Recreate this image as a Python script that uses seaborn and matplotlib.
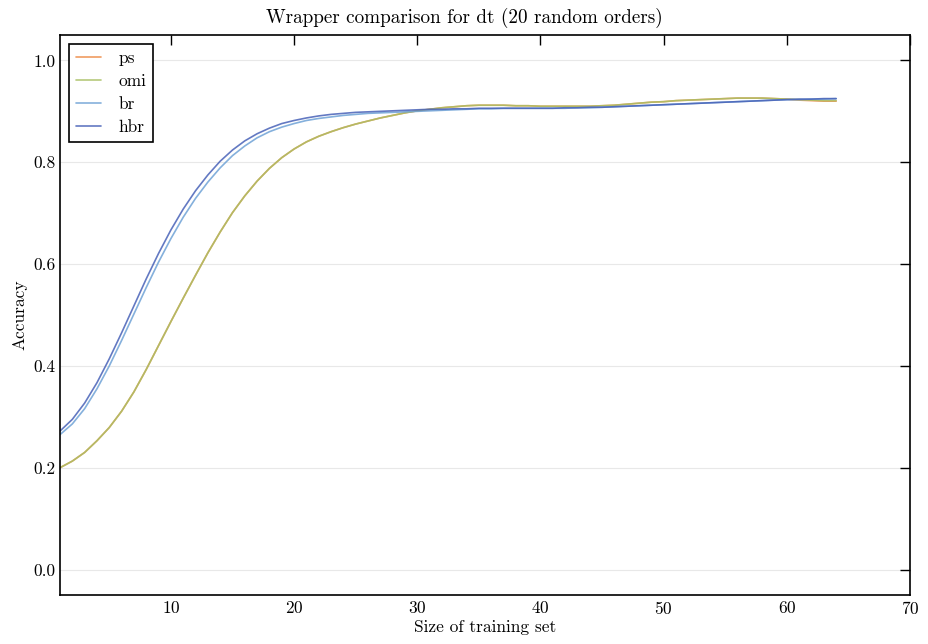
import numpy as np
import pandas as pd
import matplotlib
matplotlib.use("Agg")
import matplotlib.pyplot as plt
import seaborn as sns

# training set sizes 1..64
sizes = list(range(1, 65))

omi = [0.200, 0.213, 0.230, 0.253, 0.279, 0.311, 0.349, 0.393, 0.440, 0.487,
       0.533, 0.578, 0.622, 0.663, 0.701, 0.734, 0.763, 0.788, 0.809, 0.826,
       0.840, 0.851, 0.860, 0.868, 0.875, 0.881, 0.887, 0.892, 0.897, 0.901,
       0.904, 0.907, 0.909, 0.911, 0.912, 0.912, 0.912, 0.911, 0.911, 0.910,
       0.910, 0.910, 0.910, 0.910, 0.911, 0.912, 0.914, 0.916, 0.918, 0.919,
       0.921, 0.922, 0.923, 0.924, 0.925, 0.926, 0.926, 0.926, 0.925, 0.924,
       0.923, 0.922, 0.921, 0.921]

ps = [0.200, 0.213, 0.230, 0.253, 0.279, 0.311, 0.349, 0.393, 0.440, 0.487,
      0.533, 0.578, 0.622, 0.663, 0.701, 0.734, 0.763, 0.788, 0.809, 0.826,
      0.840, 0.851, 0.860, 0.868, 0.875, 0.881, 0.887, 0.892, 0.897, 0.901,
      0.904, 0.907, 0.909, 0.911, 0.912, 0.912, 0.912, 0.911, 0.911, 0.910,
      0.910, 0.910, 0.910, 0.910, 0.911, 0.912, 0.914, 0.916, 0.918, 0.919,
      0.921, 0.922, 0.923, 0.924, 0.925, 0.926, 0.926, 0.926, 0.925, 0.924,
      0.922, 0.921, 0.920, 0.920]

br = [0.265, 0.286, 0.316, 0.355, 0.400, 0.450, 0.502, 0.554, 0.604, 0.650,
      0.692, 0.729, 0.761, 0.789, 0.813, 0.832, 0.848, 0.860, 0.869, 0.876,
      0.882, 0.886, 0.889, 0.892, 0.894, 0.896, 0.897, 0.898, 0.899, 0.900,
      0.901, 0.902, 0.903, 0.904, 0.905, 0.905, 0.906, 0.906, 0.906, 0.906,
      0.906, 0.906, 0.907, 0.907, 0.908, 0.909, 0.910, 0.911, 0.912, 0.913,
      0.914, 0.915, 0.916, 0.917, 0.918, 0.919, 0.920, 0.921, 0.922, 0.923,
      0.923, 0.924, 0.924, 0.925]

hbr = [0.272, 0.295, 0.327, 0.367, 0.414, 0.465, 0.518, 0.571, 0.621, 0.667,
       0.708, 0.744, 0.775, 0.802, 0.824, 0.842, 0.856, 0.867, 0.876, 0.882,
       0.887, 0.891, 0.894, 0.896, 0.898, 0.899, 0.900, 0.901, 0.902, 0.903,
       0.904, 0.904, 0.905, 0.905, 0.906, 0.906, 0.906, 0.906, 0.906, 0.906,
       0.906, 0.907, 0.907, 0.908, 0.908, 0.909, 0.910, 0.911, 0.912, 0.913,
       0.914, 0.915, 0.916, 0.917, 0.918, 0.919, 0.920, 0.921, 0.922, 0.923,
       0.924, 0.924, 0.925, 0.925]

methods = ["ps", "omi", "br", "hbr"]
colors = ["#ee8a45", "#a9c064", "#6fa2d6", "#4862b8"]

df = pd.concat([
    pd.DataFrame({"size": sizes, "acc": vals, "method": name})
    for name, vals in zip(methods, [ps, omi, br, hbr])
])

sns.set_style("white")
plt.rcParams["font.family"] = "serif"
plt.rcParams["font.serif"] = ["cmr10", "DejaVu Serif"]
plt.rcParams["mathtext.fontset"] = "cm"
plt.rcParams["axes.formatter.use_mathtext"] = True
plt.rcParams["axes.unicode_minus"] = False
plt.rcParams["text.color"] = "black"
plt.rcParams["axes.labelcolor"] = "black"

fig = plt.figure(figsize=(9.29, 6.44), dpi=100)
ax = fig.add_axes([0.0646, 0.0761, 0.915, 0.8696])

sns.lineplot(data=df, x="size", y="acc", hue="method", hue_order=methods,
             palette=colors, linewidth=1.2, alpha=0.85, ax=ax)

ax.set_xlim(1, 70)
ax.set_ylim(-0.05, 1.05)
ax.set_xticks([10, 20, 30, 40, 50, 60, 70])
ax.set_yticks([0.0, 0.2, 0.4, 0.6, 0.8, 1.0])
ax.set_yticklabels(["0.0", "0.2", "0.4", "0.6", "0.8", "1.0"])
ax.tick_params(direction="in", top=True, right=True, length=7, width=1,
               labelsize=12.5, colors="black")
ax.yaxis.grid(True, color="#e8e8e8", linewidth=0.8)
ax.xaxis.grid(False)
for s in ax.spines.values():
    s.set_color("black")
    s.set_linewidth(1.2)

# title is centred on the figure, not the axes
fig.suptitle("Wrapper comparison for dt (20 random orders)", fontsize=13.8,
             x=0.5, y=0.987, va="top", color="black")
ax.set_xlabel("Size of training set", fontsize=12.5, labelpad=2)
ax.set_ylabel("Accuracy", fontsize=12.5, labelpad=4)

leg = ax.legend(loc="upper left", fontsize=12.5, fancybox=False,
                edgecolor="black", framealpha=1, handlelength=1.45,
                handletextpad=1.0, borderpad=0.4, labelspacing=0.45)
leg.get_frame().set_linewidth(1.2)
for t in leg.get_texts():
    t.set_color("black")

fig.savefig("out.png", dpi=100)
